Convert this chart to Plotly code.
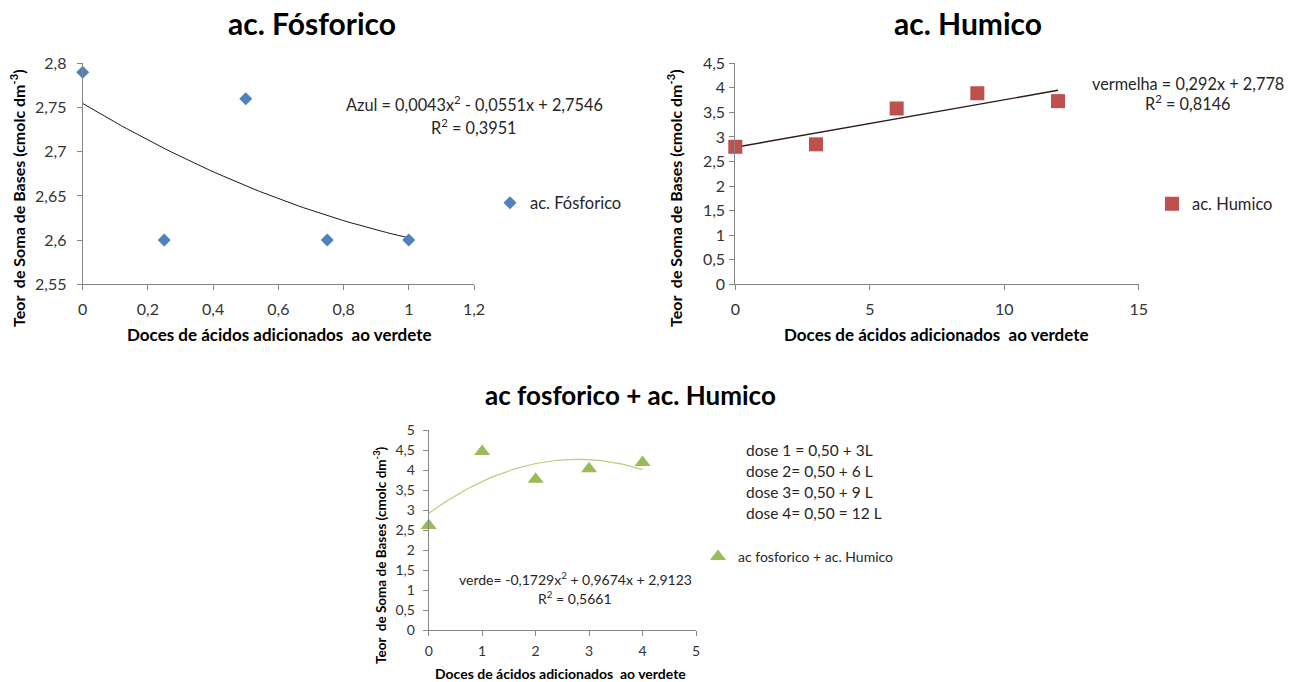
import numpy as np
import plotly.graph_objects as go

W, H = 1299, 682
OX, OY = 8, 8  # page body margin offset compensation

# ---- data ----
fos_x = [0, 0.25, 0.5, 0.75, 1]
fos_y = [2.79, 2.60, 2.76, 2.60, 2.60]

hum_x = [0, 3, 6, 9, 12]
hum_y = [2.80, 2.85, 3.58, 3.89, 3.73]

mix_x = [0, 1, 2, 3, 4]
mix_y = [2.61, 4.46, 3.77, 4.03, 4.19]

eq_fos = ["Azul = 0,0043x<sup>2</sup> - 0,0551x + 2,7546", "R<sup>2</sup> = 0,3951"]
eq_hum = ["vermelha = 0,292x + 2,778", "R<sup>2</sup> = 0,8146"]
eq_mix = ["verde= -0,1729x<sup>2</sup> + 0,9674x + 2,9123", "R<sup>2</sup> = 0,5661"]
dose_lines = ["dose 1 = 0,50 + 3L", "dose 2= 0,50 + 6 L", "dose 3= 0,50 + 9 L", "dose 4= 0,50 = 12 L"]

ytitle = "Teor  de Soma de Bases (cmolc dm<sup>-3</sup>)"
xtitle = "Doces de ácidos adicionados  ao verdete"

FONT = "Lato"


def px(x):
    return (x - OX) / W


def py(y):
    return 1 - (y - OY) / H


def fit_curve(x, y, deg):
    c = np.polyfit(x, y, deg)
    xs = np.linspace(min(x), max(x), 60)
    return xs, np.polyval(c, xs)


fig = go.Figure()

# chart 1
xs, ys = fit_curve(fos_x, fos_y, 2)
fig.add_trace(go.Scatter(x=xs, y=ys, mode="lines", line=dict(color="#1a1a1a", width=1),
                         showlegend=False, xaxis="x", yaxis="y", hoverinfo="skip"))
fig.add_trace(go.Scatter(x=fos_x, y=fos_y, mode="markers", name="ac. Fósforico",
                         marker=dict(symbol="diamond", size=10, color="#4f81bd"),
                         cliponaxis=False, xaxis="x", yaxis="y", legend="legend"))
# chart 2
xs, ys = fit_curve(hum_x, hum_y, 1)
fig.add_trace(go.Scatter(x=xs, y=ys, mode="lines", line=dict(color="#2e1a1a", width=1.4),
                         showlegend=False, xaxis="x2", yaxis="y2", hoverinfo="skip"))
fig.add_trace(go.Scatter(x=hum_x, y=hum_y, mode="markers", name="ac. Humico",
                         marker=dict(symbol="square", size=14, color="#c0504d"),
                         cliponaxis=False, xaxis="x2", yaxis="y2", legend="legend2"))
# chart 3
xs, ys = fit_curve(mix_x, mix_y, 2)
fig.add_trace(go.Scatter(x=xs, y=ys, mode="lines", line=dict(color="#b3cf80", width=1.2),
                         showlegend=False, xaxis="x3", yaxis="y3", hoverinfo="skip"))
fig.add_trace(go.Scatter(x=mix_x, y=mix_y, mode="markers", name="ac fosforico + ac. Humico",
                         marker=dict(symbol="triangle-up", size=14, color="#9bbb59"),
                         cliponaxis=False, xaxis="x3", yaxis="y3", legend="legend3"))

axis_common = dict(showline=True, linecolor="#868686", linewidth=1, ticks="outside",
                   ticklen=5, tickcolor="#868686", showgrid=False, zeroline=False,
                   fixedrange=True, automargin=False)

tick16 = dict(family=FONT, size=16, color="#333333")
tick14 = dict(family=FONT, size=14, color="#333333")

fig.update_layout(
    width=W, height=H,
    margin=dict(l=0, r=0, t=0, b=0, pad=0, autoexpand=False),
    paper_bgcolor="white", plot_bgcolor="white",
    separators=",.",
    font=dict(family=FONT, color="#262626"),
    xaxis=dict(domain=[px(82.7), px(474)], range=[0, 1.2], dtick=0.2, tick0=0,
               tickfont=tick16, ticklabelstandoff=5, anchor="y", **axis_common),
    yaxis=dict(domain=[py(284.3), py(63.3)], range=[2.55, 2.8], dtick=0.05, tick0=2.55,
               tickfont=tick16, ticklabelstandoff=7, anchor="x", **axis_common),
    xaxis2=dict(domain=[px(735.3), px(1138.7)], range=[0, 15], dtick=5, tick0=0,
                tickfont=tick16, ticklabelstandoff=5, anchor="y2", **axis_common),
    yaxis2=dict(domain=[py(284.3), py(63.3)], range=[0, 4.5], dtick=0.5, tick0=0,
                tickfont=tick16, ticklabelstandoff=1, anchor="x2", **axis_common),
    xaxis3=dict(domain=[px(428.7), px(696)], range=[0, 5], dtick=1, tick0=0,
                tickfont=tick14, ticklabelstandoff=3, anchor="y3", **axis_common),
    yaxis3=dict(domain=[py(630), py(430)], range=[0, 5], dtick=0.5, tick0=0,
                tickfont=tick14, ticklabelstandoff=5, anchor="x3", **axis_common),
    legend=dict(x=px(490), y=py(203), xanchor="left", yanchor="middle",
                bgcolor="rgba(0,0,0,0)", font=dict(family=FONT, size=16.5, color="#262626")),
    legend2=dict(x=px(1152), y=py(204), xanchor="left", yanchor="middle",
                 bgcolor="rgba(0,0,0,0)", font=dict(family=FONT, size=16.5, color="#262626")),
    legend3=dict(x=px(698), y=py(557), xanchor="left", yanchor="middle",
                 bgcolor="rgba(0,0,0,0)", font=dict(family=FONT, size=14, color="#262626")),
)

ann = []


def text(x, y, s, size, bold=False, angle=0, xanchor="center", color="#262626"):
    ann.append(dict(x=px(x), y=py(y), xref="paper", yref="paper", text=(f"<b>{s}</b>" if bold else s),
                    showarrow=False, xanchor=xanchor, yanchor="middle", textangle=angle,
                    font=dict(family=FONT, size=size, color=color)))


# titles
text(312, 23, "ac. Fósforico", 30, bold=True, color="black")
text(968, 23, "ac. Humico", 30, bold=True, color="black")
text(630, 395, "ac fosforico + ac. Humico", 26, bold=True, color="black")

# axis titles
text(279, 334, xtitle, 17, bold=True, color="black")
text(936, 334, xtitle, 17, bold=True, color="black")
text(560, 673, xtitle, 14, bold=True, color="black")
text(18, 198, ytitle, 16, bold=True, angle=-90, color="black")
text(675, 198, ytitle, 16, bold=True, angle=-90, color="black")
text(380, 555, ytitle, 13.5, bold=True, angle=-90, color="black")

# equations
text(474, 104, eq_fos[0], 16.3)
text(474, 126, eq_fos[1], 16.3)
text(1188, 83, eq_hum[0], 16.3)
text(1188, 103, eq_hum[1], 16.3)
text(575, 578, eq_mix[0], 14)
text(575, 597, eq_mix[1], 14)

for i, s in enumerate(dose_lines):
    text(744, 450 + 21 * i, s, 15.5, xanchor="left")

fig.update_layout(annotations=ann)

fig.write_html("out.html")
